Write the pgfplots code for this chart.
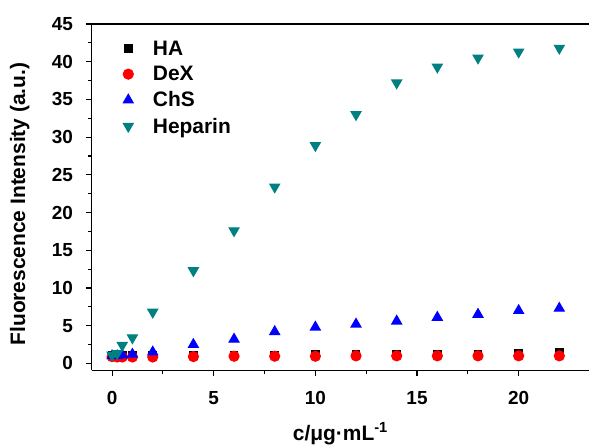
\documentclass[border=0pt]{standalone}
\usepackage{pgfplots}
\pgfplotsset{compat=1.18}
\usepackage{fontspec}
\setmainfont{Liberation Sans}
\definecolor{hepcol}{RGB}{0,128,128}
\pgfplotsset{
  markleg/.style={legend image code/.code={%
    \path (-6bp,0bp) (22bp,0bp);
    \draw[##1] plot coordinates {(0bp,0bp)};}},
}
\begin{document}
\begin{tikzpicture}
\begin{axis}[
  name=ax,
  scale only axis,
  width=497bp, height=346bp,
  xmin=-1, xmax=23.46,
  ymin=-0.9, ymax=45,
  axis x line=box, axis y line=left,
  y axis line style={-},
  xtick pos=bottom,
  xtick={0,5,...,20}, ytick={0,5,...,45},
  minor x tick num=1, minor y tick num=1,
  tick align=outside,
  major tick length=6bp, minor tick length=3.5bp,
  every axis/.append style={line width=1.2pt},
  tick style={line width=1.1pt, black},
  /pgf/number format/assume math mode=true,
  ticklabel style={font=\bfseries\fontsize{19}{21}\selectfont},
  xticklabel style={yshift=-11bp},
  yticklabel style={xshift=-9bp},
  xlabel={c/μg·mL\textsuperscript{-1}},
  ylabel={Fluorescence Intensity (a.u.)},
  xlabel style={font=\bfseries\fontsize{21}{23}\selectfont, at={(axis description cs:0.5,-0.202)}, anchor=base},
  ylabel style={font=\bfseries\fontsize{21}{23}\selectfont, at={(axis description cs:-0.145,0.48)}, anchor=center, rotate=0},
  legend style={draw=none, fill=none, at={(axis description cs:0.053,0.965)}, anchor=north west,
    font=\bfseries\fontsize{21}{23}\selectfont, row sep=5.6bp},
  legend cell align=left,
]
\addplot[only marks, markleg, mark=square*, mark size=3.8pt, black] coordinates {
  (0,1.0)(0.25,1.0)(0.5,1.0)(1,1.0)(2,1.0)(4,1.0)(6,1.05)(8,1.1)
  (10,1.15)(12,1.2)(14,1.25)(16,1.2)(18,1.25)(20,1.3)(22,1.45)
};
\addlegendentry{HA}
\addplot[only marks, markleg, mark=*, mark size=5pt, red] coordinates {
  (0,0.9)(0.25,0.85)(0.5,0.85)(1,0.85)(2,0.85)(4,0.9)(6,0.95)(8,0.95)
  (10,0.95)(12,1.0)(14,1.0)(16,1.0)(18,1.0)(20,1.0)(22,1.0)
};
\addlegendentry{DeX}
\addplot[only marks, markleg, mark=triangle*, mark size=5.6pt, blue] coordinates {
  (0,1.0)(0.25,1.0)(0.5,1.1)(1,1.2)(2,1.5)(4,2.5)(6,3.2)(8,4.2)
  (10,4.8)(12,5.2)(14,5.6)(16,6.1)(18,6.5)(20,7.0)(22,7.3)
};
\addlegendentry{ChS}
\addplot[only marks, markleg, mark=triangle*, mark size=5.6pt, hepcol, mark options={rotate=180}] coordinates {
  (0,1.1)(0.25,1.3)(0.5,2.4)(1,3.4)(2,6.8)(4,12.3)(6,17.6)(8,23.4)
  (10,28.9)(12,33.0)(14,37.2)(16,39.3)(18,40.5)(20,41.3)(22,41.8)
};
\addlegendentry{Heparin}
\coordinate (bl) at (rel axis cs:0,0);
\coordinate (tr) at (rel axis cs:1,1);
\end{axis}
\pgfresetboundingbox
\path ([xshift=-91.7bp,yshift=-76bp]bl) rectangle ([yshift=24bp]tr);
\end{tikzpicture}
\end{document}
